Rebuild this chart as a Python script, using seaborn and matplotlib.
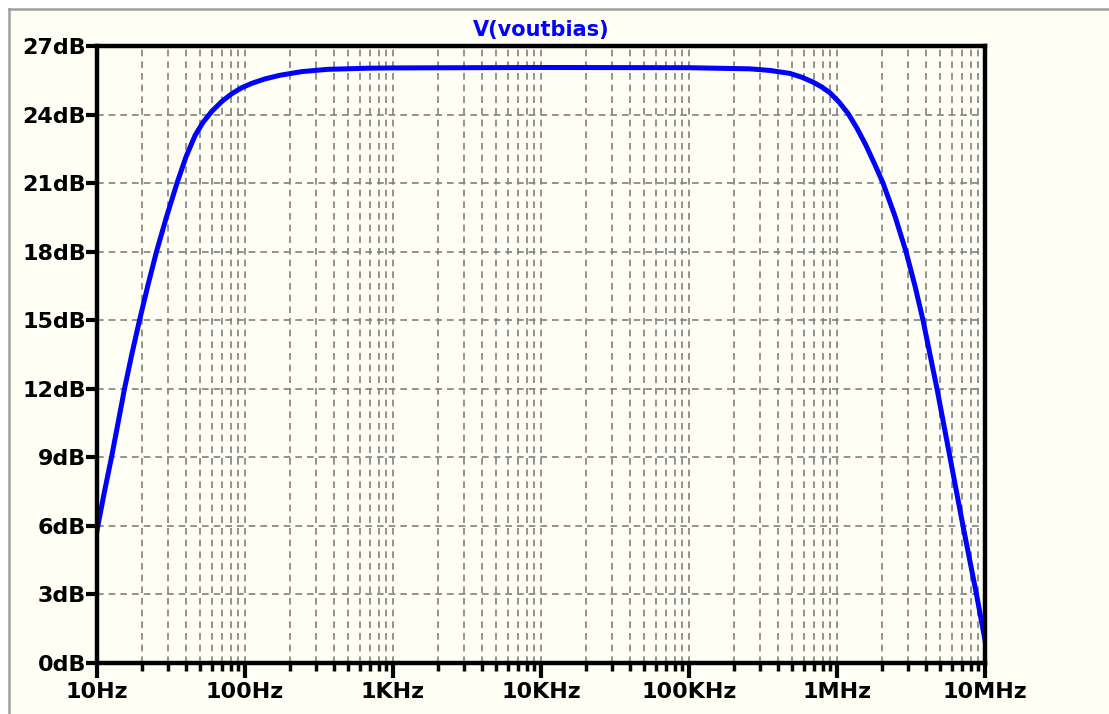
import matplotlib
matplotlib.use("Agg")
import matplotlib.pyplot as plt
import matplotlib.ticker as mticker
from matplotlib.patches import Rectangle
from matplotlib.lines import Line2D
import seaborn as sns
import pandas as pd

# 데이터
freq_hz = [10, 11.15, 12.53, 13.87, 15.34, 17.24, 19.38, 22.12, 25.23, 29.26,
           34.72, 39.94, 45.94, 52.04, 59.84, 69.94, 81.71, 95.46, 111.5,
           136.5, 172.4, 242.7, 363.8, 699.1,
           1e3, 1e4, 1e5,
           2.584e5, 3.527e5, 4.813e5, 5.80e5, 6.884e5, 7.917e5, 8.968e5,
           1.031e6, 1.187e6, 1.365e6, 1.570e6, 1.806e6, 2.046e6, 2.466e6,
           2.926e6, 3.365e6, 3.812e6, 4.250e6, 4.739e6, 5.80e6, 7.101e6,
           8.762e6, 1e7]
gain_db = [5.8, 7.4, 9.0, 10.5, 12.0, 13.55, 15.0, 16.55, 18.0, 19.45,
           21.0, 22.15, 23.08, 23.66, 24.15, 24.58, 24.92, 25.18, 25.37,
           25.56, 25.72, 25.88, 25.98, 26.03,
           26.04, 26.06, 26.05,
           26.0, 25.93, 25.8, 25.63, 25.42, 25.2, 24.95,
           24.55, 24.05, 23.4, 22.65, 21.8, 21.0, 19.55,
           18.0, 16.5, 15.0, 13.5, 12.0, 9.0, 6.0,
           3.0, 1.0]

x_ticks = [1e1, 1e2, 1e3, 1e4, 1e5, 1e6, 1e7]
x_labels = ["10Hz", "100Hz", "1KHz", "10KHz", "100KHz", "1MHz", "10MHz"]
y_ticks = list(range(0, 28, 3))
y_labels = [f"{v}dB" for v in y_ticks]

TITLE = "V(voutbias)"
BG = "#FFFFF5"

df = pd.DataFrame({"freq": freq_hz, "db": gain_db})

fig = plt.figure(figsize=(11.09, 7.14), dpi=100, facecolor="white")
# 창 배경 + 테두리 (위/왼쪽)
bx, by = 9 / 1109, 1 - 9 / 714
fig.add_artist(Rectangle((bx, 0), 1 - bx, by, transform=fig.transFigure,
                         facecolor=BG, edgecolor="none", zorder=0))
fig.add_artist(Line2D([bx, 1], [by, by], transform=fig.transFigure,
                      color="#A0A0A0", linewidth=1.8, zorder=1))
fig.add_artist(Line2D([bx, bx], [0, by], transform=fig.transFigure,
                      color="#A0A0A0", linewidth=1.8, zorder=1))

ax = fig.add_axes([97 / 1109, 1 - 663 / 714, (985 - 97) / 1109, (663 - 46) / 714])
ax.set_facecolor(BG)

sns.lineplot(data=df, x="freq", y="db", ax=ax, color="#0000FF",
             linewidth=3.6, estimator=None, sort=True, zorder=3)

ax.set_xscale("log")
ax.set_xlim(1e1, 1e7)
ax.set_ylim(0, 27)

ax.xaxis.set_major_locator(mticker.FixedLocator(x_ticks))
ax.xaxis.set_minor_locator(mticker.LogLocator(base=10, subs=range(2, 10), numticks=20))
ax.xaxis.set_minor_formatter(mticker.NullFormatter())
ax.set_xticks(x_ticks)
ax.set_xticklabels(x_labels)
ax.set_yticks(y_ticks)
ax.set_yticklabels(y_labels)

ax.grid(which="major", axis="both", color="#808080", linestyle=(0, (4, 3)), linewidth=1.2)
ax.grid(which="minor", axis="x", color="#808080", linestyle=(0, (4, 3)), linewidth=1.2)
ax.set_axisbelow(True)

for s in ax.spines.values():
    s.set_linewidth(3.2)
    s.set_color("black")
    s.set_zorder(4)

ax.tick_params(axis="y", which="major", direction="out", length=8, width=3,
               pad=0, labelsize=16, colors="black")
ax.tick_params(axis="x", which="major", direction="out", length=11, width=3,
               pad=3, labelsize=16, colors="black")
ax.tick_params(axis="x", which="minor", direction="out", length=6, width=2.5)
for lab in ax.get_xticklabels() + ax.get_yticklabels():
    lab.set_fontweight("bold")
    lab.set_family("DejaVu Sans")

ax.set_xlabel("")
ax.set_ylabel("")
ax.text(0.5, 1 + 16 / 617, TITLE, transform=ax.transAxes, ha="center", va="center",
        color="#0000FF", fontsize=15, fontweight="bold", family="DejaVu Sans")

fig.savefig("out.png", dpi=100, facecolor=fig.get_facecolor())
